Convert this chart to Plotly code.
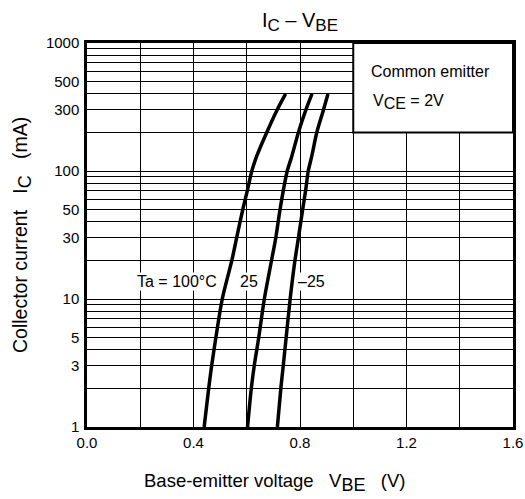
import plotly.graph_objects as go

# Data
ic_ma = [1, 2, 3, 5, 10, 20, 30, 50, 70, 100, 130, 200, 300, 400]
vbe_100 = [0.44, 0.457, 0.468, 0.484, 0.508, 0.544, 0.562, 0.585, 0.602, 0.619, 0.637, 0.675, 0.714, 0.746]
vbe_25 = [0.603, 0.617, 0.628, 0.645, 0.666, 0.693, 0.709, 0.725, 0.737, 0.752, 0.769, 0.794, 0.822, 0.845]
vbe_m25 = [0.715, 0.728, 0.737, 0.748, 0.763, 0.781, 0.794, 0.810, 0.821, 0.831, 0.844, 0.863, 0.888, 0.905]

x_ticks = [0.0, 0.2, 0.4, 0.6, 0.8, 1.0, 1.2, 1.4, 1.6]
x_ticktext = ["0.0", "", "0.4", "", "0.8", "", "1.2", "", "1.6"]
y_grid = [m * 10 ** d for d in range(3) for m in range(1, 10)] + [1000]
y_labels = {1: "1", 3: "3", 5: "5", 10: "10", 30: "30", 50: "50",
            100: "100", 300: "300", 500: "500", 1000: "1000"}
y_ticktext = [y_labels.get(v, "") for v in y_grid]

FONT = "Arial, Liberation Sans, sans-serif"


def sub(t, px):
    return "<sub><span style='font-size:%dpx'>%s</span></sub>" % (px, t)


fig = go.Figure()
for v in (vbe_100, vbe_25, vbe_m25):
    fig.add_trace(go.Scatter(x=v, y=ic_ma, mode="lines",
                             line=dict(color="black", width=3.5, shape="spline", smoothing=0.8),
                             showlegend=False, hoverinfo="skip"))

fig.update_layout(
    width=525, height=499,
    margin=dict(l=87, r=12, t=43, b=72),
    paper_bgcolor="white", plot_bgcolor="white",
    font=dict(family=FONT, size=15, color="black"),
    showlegend=False,
    title=dict(text="I" + sub("C", 17) + " – V" + sub("BE", 17), x=300 / 525, xanchor="center",
               y=1 - 20 / 499, yanchor="middle", font=dict(size=20)),
    xaxis=dict(range=[0, 1.6], tickvals=x_ticks, ticktext=x_ticktext,
               showgrid=True, gridcolor="black", gridwidth=1.2,
               showline=True, linecolor="black", linewidth=2.5, mirror=True,
               ticks="", zeroline=False, tickfont=dict(size=15), automargin=False),
    yaxis=dict(type="log", range=[0, 3], tickvals=y_grid, ticktext=y_ticktext,
               showgrid=True, gridcolor="black", gridwidth=1.2,
               showline=True, linecolor="black", linewidth=2.5, mirror=True,
               ticks="", zeroline=False, tickfont=dict(size=15), ticklabelstandoff=2,
               automargin=False),
)

# Condition box (covers the grid in the upper right)
fig.add_shape(type="rect", xref="x", yref="y", x0=1.0, x1=1.6, y0=200, y1=1000,
              fillcolor="white", line=dict(color="black", width=2), layer="above")

ann = [
    dict(x=1.063, y=2.781, text="Common emitter", xanchor="left"),
    dict(x=1.07, y=2.539, text="V" + sub("CE", 16) + " = 2V", xanchor="left"),
    dict(x=0.338, y=1.133, text="Ta = 100°C", xanchor="center", bgcolor="white"),
    dict(x=0.609, y=1.133, text="25", xanchor="center", bgcolor="white"),
    dict(x=0.845, y=1.133, text="–25", xanchor="center", bgcolor="white"),
]
for a in ann:
    fig.add_annotation(xref="x", yref="y", yanchor="middle", showarrow=False,
                       font=dict(size=16), borderpad=0, **a)

fig.add_annotation(xref="paper", yref="paper", x=(275 - 87) / 426, y=-(482 - 427) / 384,
                   text="Base-emitter voltage   V" + sub("BE", 18) + "   (V)", showarrow=False,
                   xanchor="center", yanchor="middle", font=dict(size=18.5))
fig.add_annotation(xref="paper", yref="paper", x=-(87 - 22) / 426, y=(427 - 235) / 384,
                   text="Collector current   I" + sub("C", 18) + "   (mA)", showarrow=False,
                   textangle=-90, xanchor="center", yanchor="middle", font=dict(size=19.5))

fig.write_html("out.html")
